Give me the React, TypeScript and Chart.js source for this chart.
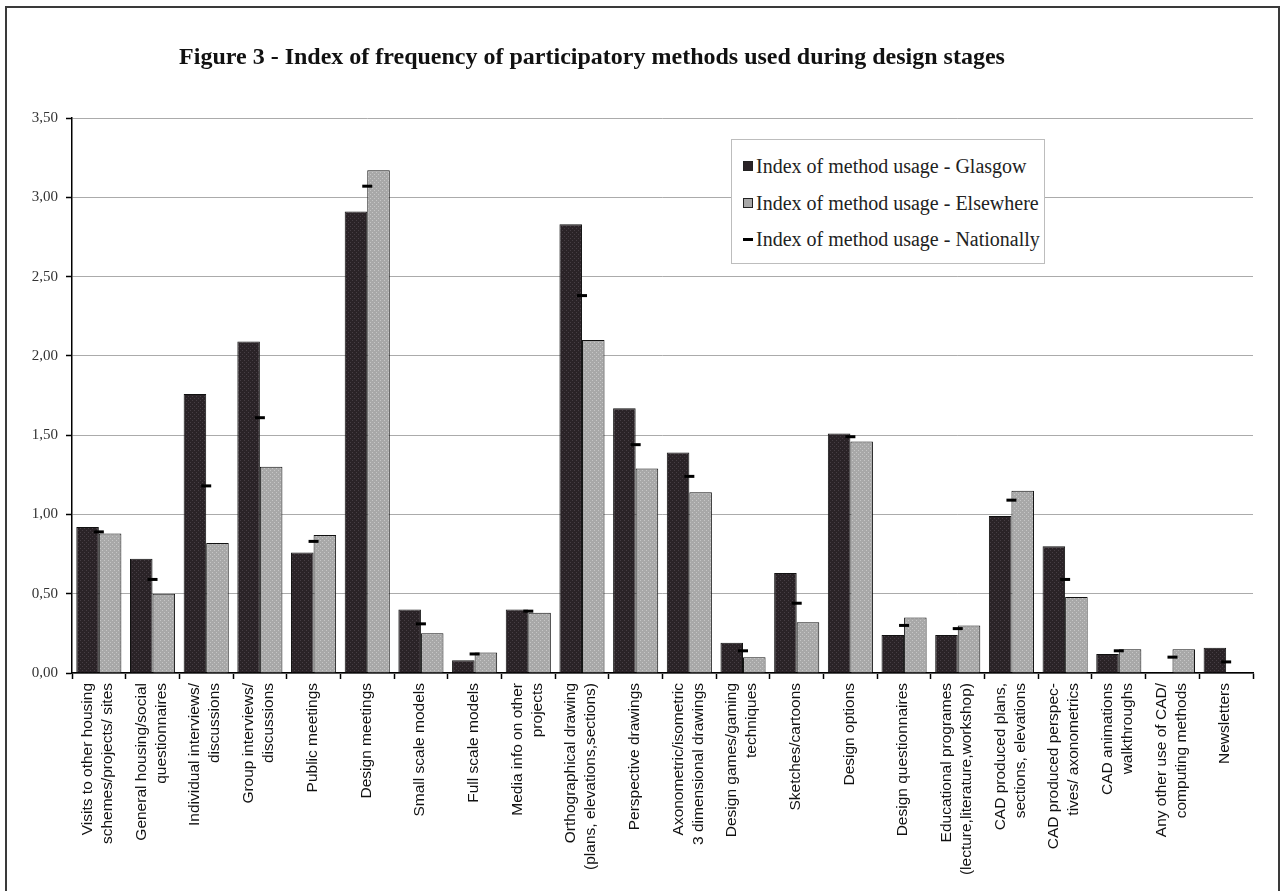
import React, { useEffect, useRef } from "react";
import { Chart, registerables } from "chart.js";

Chart.register(...registerables);

const categories: (string | string[])[] = [
  ["Visits to other housing", "schemes/projects/ sites"],
  ["General housing/social", "questionnaires"],
  ["Individual interviews/", "discussions"],
  ["Group interviews/", "discussions"],
  "Public meetings",
  "Design meetings",
  "Small scale models",
  "Full scale models",
  ["Media info on other", "projects"],
  ["Orthographical drawing", "(plans, elevations,sections)"],
  "Perspective drawings",
  ["Axonometric/isometric", "3 dimensional drawings"],
  ["Design games/gaming", "techniques"],
  "Sketches/cartoons",
  "Design options",
  "Design questionnaires",
  ["Educational programes", "(lecture,literature,workshop)"],
  ["CAD produced plans,", "sections, elevations"],
  ["CAD produced perspec-", "tives/ axonometrics"],
  ["CAD animations", "walkthroughs"],
  ["Any other use of CAD/", "computing methods"],
  "Newsletters",
];

const glasgow = [0.92, 0.72, 1.76, 2.09, 0.76, 2.91, 0.4, 0.08, 0.4, 2.83, 1.67, 1.39, 0.19, 0.63, 1.51, 0.24, 0.24, 0.99, 0.8, 0.12, 0, 0.16];
const elsewhere = [0.88, 0.5, 0.82, 1.3, 0.87, 3.17, 0.25, 0.13, 0.38, 2.1, 1.29, 1.14, 0.1, 0.32, 1.46, 0.35, 0.3, 1.15, 0.48, 0.15, 0.15, 0];
const nationally = [0.89, 0.59, 1.18, 1.61, 0.83, 3.07, 0.31, 0.12, 0.39, 2.38, 1.44, 1.24, 0.14, 0.44, 1.49, 0.3, 0.28, 1.09, 0.59, 0.14, 0.1, 0.07];

const seriesNames = [
  "Index of method usage - Glasgow",
  "Index of method usage - Elsewhere",
  "Index of method usage - Nationally",
];

const yTicks = [0, 0.5, 1, 1.5, 2, 2.5, 3, 3.5];

const LABEL_FONT = "15.5px 'Liberation Sans', Arial, sans-serif";
const LABEL_LINE = 20;

function makePattern(base: string, dot: string): CanvasPattern | string {
  const c = document.createElement("canvas");
  c.width = 4;
  c.height = 4;
  const ctx = c.getContext("2d");
  if (!ctx) return base;
  ctx.fillStyle = base;
  ctx.fillRect(0, 0, 4, 4);
  ctx.fillStyle = dot;
  ctx.fillRect(0, 0, 1, 1);
  ctx.fillRect(2, 2, 1, 1);
  const p = ctx.createPattern(c, "repeat");
  return p || base;
}

const xLabelPlugin = {
  id: "xLabels",
  afterDraw(chart: any) {
    const xs = chart.scales.x;
    const ctx = chart.ctx as CanvasRenderingContext2D;
    ctx.save();
    ctx.font = LABEL_FONT;
    ctx.fillStyle = "#111";
    ctx.textAlign = "right";
    ctx.textBaseline = "middle";
    const yTop = xs.top + 10;
    categories.forEach((lab, i) => {
      const lines = Array.isArray(lab) ? lab : [lab];
      const cx = xs.getPixelForValue(i);
      lines.forEach((line, j) => {
        const x = cx + (j - (lines.length - 1) / 2) * LABEL_LINE - 1;
        ctx.save();
        ctx.translate(x, yTop);
        ctx.rotate(-Math.PI / 2);
        ctx.fillText(line, 0, 0);
        ctx.restore();
      });
    });
    ctx.restore();
  },
};

export default function App() {
  const ref = useRef<HTMLCanvasElement | null>(null);

  useEffect(() => {
    document.body.style.margin = "0";
    const canvas = ref.current;
    if (!canvas) return;
    const darkFill = makePattern("#2a2327", "#463e44");
    const greyFill = makePattern("#a8a8a8", "#c6c6c6");
    const chart = new Chart(canvas, {
      type: "bar",
      data: {
        labels: categories,
        datasets: [
          {
            type: "bar",
            label: seriesNames[0],
            data: glasgow,
            backgroundColor: darkFill as any,
            borderColor: "#111",
            borderWidth: 1,
            categoryPercentage: 0.84,
            barPercentage: 1,
            order: 2,
          },
          {
            type: "bar",
            label: seriesNames[1],
            data: elsewhere,
            backgroundColor: greyFill as any,
            borderColor: "#111",
            borderWidth: 1,
            categoryPercentage: 0.84,
            barPercentage: 1,
            order: 2,
          },
          {
            type: "line",
            label: seriesNames[2],
            data: nationally,
            showLine: false,
            pointStyle: "line",
            pointRadius: 5,
            pointHoverRadius: 5,
            pointBorderWidth: 3,
            borderColor: "#000",
            backgroundColor: "#000",
            order: 1,
          } as any,
        ],
      },
      plugins: [xLabelPlugin],
      options: {
        responsive: false,
        animation: false,
        devicePixelRatio: 1,
        layout: { padding: { top: 118, right: 34, left: 0, bottom: 0 } },
        plugins: {
          legend: { display: false },
          title: { display: false },
          tooltip: { enabled: false },
        },
        scales: {
          x: {
            afterFit: (s: any) => {
              s.height = 218;
            },
            border: { color: "#000", width: 1.5 },
            grid: {
              offset: true,
              drawOnChartArea: false,
              drawTicks: true,
              tickLength: 6,
              tickColor: "#000",
              tickWidth: 1.5,
            },
            ticks: {
              display: false,
              autoSkip: false,
            },
          },
          y: {
            min: 0,
            max: 3.5,
            afterFit: (s: any) => {
              s.width = 72;
            },
            afterBuildTicks: (s: any) => {
              s.ticks = yTicks.map((v) => ({ value: v }));
            },
            border: { color: "#000", width: 1.5 },
            grid: {
              color: "#ababab",
              lineWidth: 1,
              tickLength: 6,
              tickColor: "#000",
              tickWidth: 1.5,
            },
            ticks: {
              padding: 8,
              color: "#333",
              font: { family: "'Liberation Serif', 'Times New Roman', serif", size: 15 },
              callback: (v: any) => Number(v).toFixed(2).replace(".", ","),
            },
          },
        },
      },
    });
    return () => chart.destroy();
  }, []);

  const legendItem = (i: number) => {
    const marker =
      i === 2 ? (
        <span style={{ display: "inline-block", width: 10, height: 3, background: "#000", marginRight: 3, verticalAlign: "middle" }} />
      ) : (
        <span
          style={{
            display: "inline-block",
            width: 8,
            height: 8,
            background: i === 0 ? "#2a2327" : "#a8a8a8",
            border: "1px solid #222",
            marginRight: 3,
            verticalAlign: "middle",
          }}
        />
      );
    return (
      <div style={{ height: 36.5, lineHeight: "36px", whiteSpace: "nowrap" }}>
        {marker}
        <span style={{ verticalAlign: "middle" }}>{seriesNames[i]}</span>
      </div>
    );
  };

  return (
    <div style={{ position: "relative", width: 1287, height: 891, overflow: "hidden", background: "#fff" }}>
      <canvas ref={ref} width={1287} height={891} style={{ position: "absolute", left: 0, top: 0 }} />
      <div
        style={{
          position: "absolute",
          left: 5,
          top: 6,
          width: 1271,
          height: 900,
          border: "2px solid #3a3a3a",
          pointerEvents: "none",
        }}
      />
      <div
        style={{
          position: "absolute",
          left: 0,
          top: 43,
          width: 1184,
          textAlign: "center",
          fontFamily: "'Liberation Serif', 'Times New Roman', serif",
          fontWeight: "bold",
          fontSize: 24,
          color: "#111",
        }}
      >
        Figure 3 - Index of frequency of participatory methods used during design stages
      </div>
      <div
        style={{
          position: "absolute",
          left: 731,
          top: 139,
          width: 314,
          height: 125,
          border: "1px solid #bdbdbd",
          background: "#fff",
          padding: "6px 0 0 11px",
          boxSizing: "border-box",
          fontFamily: "'Liberation Serif', 'Times New Roman', serif",
          fontSize: 20,
          color: "#222",
        }}
      >
        {legendItem(0)}
        {legendItem(1)}
        {legendItem(2)}
      </div>
    </div>
  );
}
